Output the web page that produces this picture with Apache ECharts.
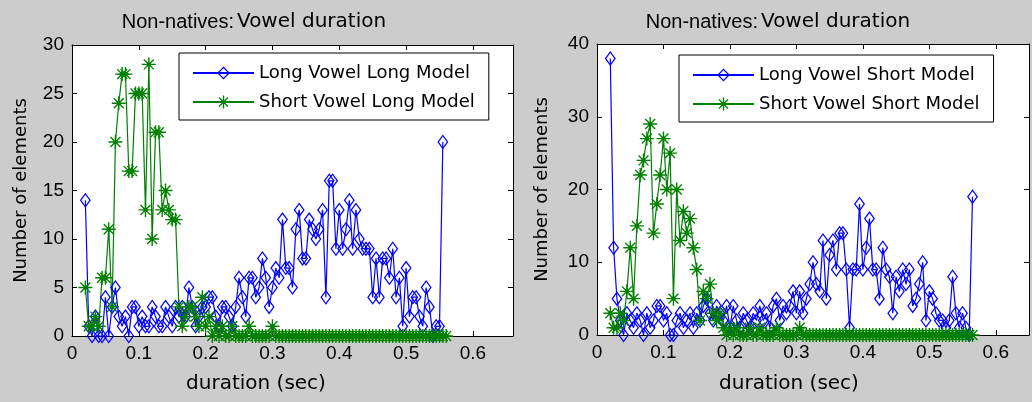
<!DOCTYPE html>
<html>
<head>
<meta charset="utf-8">
<title>Non-natives: Vowel duration</title>
<script src="https://cdn.jsdelivr.net/npm/echarts@6/dist/echarts.min.js"></script>
<style>
  html, body { margin: 0; padding: 0; background: #cccccc; }
  #chart { width: 1032px; height: 402px; }
</style>
</head>
<body>
<div id="chart"></div>
<script>
// histogram bins (sec), 5 ms wide
var durations = [
  0.020, 0.025, 0.030, 0.035, 0.040, 0.045, 0.050, 0.055, 0.060, 0.065,
  0.070, 0.075, 0.080, 0.085, 0.090, 0.095, 0.100, 0.105, 0.110, 0.115,
  0.120, 0.125, 0.130, 0.135, 0.140, 0.145, 0.150, 0.155, 0.160, 0.165,
  0.170, 0.175, 0.180, 0.185, 0.190, 0.195, 0.200, 0.205, 0.210, 0.215,
  0.220, 0.225, 0.230, 0.235, 0.240, 0.245, 0.250, 0.255, 0.260, 0.265,
  0.270, 0.275, 0.280, 0.285, 0.290, 0.295, 0.300, 0.305, 0.310, 0.315,
  0.320, 0.325, 0.330, 0.335, 0.340, 0.345, 0.350, 0.355, 0.360, 0.365,
  0.370, 0.375, 0.380, 0.385, 0.390, 0.395, 0.400, 0.405, 0.410, 0.415,
  0.420, 0.425, 0.430, 0.435, 0.440, 0.445, 0.450, 0.455, 0.460, 0.465,
  0.470, 0.475, 0.480, 0.485, 0.490, 0.495, 0.500, 0.505, 0.510, 0.515,
  0.520, 0.525, 0.530, 0.535, 0.540, 0.545, 0.550, 0.555, 0.560, 0.565
];

// left panel: long model
var longVowelLongModel = [
  14, 1, 0, 2, 0, 0, 4, 0, 3, 5,
  2, 1, 2, 0, 3, 3, 1, 2, 1, 1,
  3, 2, 1, 1, 3, 2, 1, 3, 2, 3,
  2, 5, 3, 1, 2, 3, 3, 4, 4, 2,
  1, 3, 3, 2, 1, 3, 6, 4, 2, 6,
  6, 4, 5, 8, 6, 3, 5, 7, 6, 12,
  7, 7, 5, 11, 13, 8, 8, 12, 11, 10,
  11, 13, 4, 16, 16, 9, 13, 9, 11, 14,
  9, 13, 10, 9, 9, 9, 4, 8, 4, 8,
  8, 6, 9, 4, 6, 1, 7, 2, 4, 4,
  2, 1, 5, 3, 0, 1, 1, 20, null, null
];
var shortVowelLongModel = [
  5, 1, 1, 2, 1, 6, 6, 11, 3, 20,
  24, 27, 27, 17, 17, 25, 25, 25, 13, 28,
  10, 21, 21, 13, 15, 13, 12, 12, 3, 1,
  2, 3, 3, 2, 1, 4, 1, 2, 0, 1,
  0, 1, 0, 0, 1, 0, 0, 0, 0, 1,
  0, 0, 0, 0, 0, 0, 1, 0, 0, 0,
  0, 0, 0, 0, 0, 0, 0, 0, 0, 0,
  0, 0, 0, 0, 0, 0, 0, 0, 0, 0,
  0, 0, 0, 0, 0, 0, 0, 0, 0, 0,
  0, 0, 0, 0, 0, 0, 0, 0, 0, 0,
  0, 0, 0, 0, 0, 0, 0, 0, 0, null
];

// right panel: short model
var longVowelShortModel = [
  38, 12, 5, 2, 0, 3, 2, 1, 3, 2,
  0, 3, 1, 2, 4, 4, 2, 3, 0, 0,
  2, 3, 1, 2, 3, 1, 3, 2, 4, 5,
  3, 2, 4, 3, 2, 4, 1, 4, 2, 1,
  3, 2, 1, 3, 2, 4, 2, 3, 1, 4,
  5, 2, 4, 3, 4, 6, 3, 6, 3, 5,
  7, 10, 7, 6, 13, 5, 11, 13, 9, 14,
  14, 9, 1, 9, 9, 18, 9, 12, 16, 9,
  9, 5, 12, 9, 8, 3, 8, 6, 9, 7,
  9, 4, 5, 7, 10, 2, 6, 5, 3, 2,
  2, 1, 2, 8, 3, 1, 3, 1, 0, 19
];
var shortVowelShortModel = [
  3, 1, 1, 3, 2, 6, 12, 5, 15, 22,
  24, 27, 29, 14, 18, 22, 27, 20, 25, 5,
  20, 13, 17, 14, 16, 12, 9, 2, 6, 5,
  7, 3, 2, 3, 1, 0, 1, 0, 1, 0,
  0, 0, 1, 0, 0, 1, 0, 0, 0, 0,
  1, 0, 0, 0, 0, 0, 0, 1, 0, 0,
  0, 0, 0, 0, 0, 0, 0, 0, 0, 0,
  0, 0, 0, 0, 0, 0, 0, 0, 0, 0,
  0, 0, 0, 0, 0, 0, 0, 0, 0, 0,
  0, 0, 0, 0, 0, 0, 0, 0, 0, 0,
  0, 0, 0, 0, 0, 0, 0, 0, 0, 0
];

var chart = echarts.init(document.getElementById('chart'));

function toPoints(counts) {
  return durations.map(function (d, i) {
    return [d, counts[i] == null ? '-' : counts[i]];
  });
}

// matlab style markers: hollow diamond and asterisk
var diamond = 'path://M5 0 L10 7 L5 14 L0 7 Z M5 1.9 L1.4 7 L5 12.1 L8.6 7 Z';
var asterisk = 'path://M9 0 L11 0 L11 20 L9 20 Z M0 9 L20 9 L20 11 L0 11 Z ' +
  'M3.6 2.2 L17.8 16.4 L16.4 17.8 L2.2 3.6 Z M16.4 2.2 L17.8 3.6 L3.6 17.8 L2.2 16.4 Z ' +
  'M7 7 L13 7 L13 13 L7 13 Z';

var arial = 'Liberation Sans';
var verdana = 'DejaVu Sans';

function xAx(grid, max, top) {
  return {
    type: 'value', gridIndex: grid, min: 0, max: max, interval: 0.1,
    position: top ? 'top' : 'bottom',
    axisLine: { show: true, onZero: false, lineStyle: { color: '#000', width: 1 } },
    axisTick: { show: true, inside: true, length: 5, lineStyle: { color: '#000' } },
    axisLabel: { show: !top, showMaxLabel: false, color: '#000', fontSize: 19, fontFamily: arial, margin: 8 },
    splitLine: { show: false }
  };
}
function yAx(grid, max, interval, right, name, gap) {
  return {
    type: 'value', gridIndex: grid, min: 0, max: max, interval: interval,
    position: right ? 'right' : 'left',
    name: right ? '' : name, nameLocation: 'middle', nameGap: gap,
    nameTextStyle: { color: '#000', fontSize: 18, fontFamily: verdana },
    axisLine: { show: true, onZero: false, lineStyle: { color: '#000', width: 1 } },
    axisTick: { show: true, inside: true, length: 5, lineStyle: { color: '#000' } },
    axisLabel: { show: !right, color: '#000', fontSize: 19, fontFamily: arial, margin: 8 },
    splitLine: { show: false }
  };
}

function series(name, counts, grid, blue) {
  return {
    name: name, type: 'line', xAxisIndex: grid, yAxisIndex: grid,
    data: toPoints(counts),
    symbol: blue ? diamond : asterisk,
    symbolSize: blue ? [11, 15] : 14,
    showAllSymbol: true,
    clip: false,
    color: blue ? '#0000ff' : '#008000',
    lineStyle: { width: 1.2 },
    itemStyle: { borderWidth: 0 },
    emphasis: { disabled: true }
  };
}

function legend(left, top, names) {
  return {
    left: left, top: top, orient: 'vertical',
    data: names,
    backgroundColor: '#fff', borderColor: '#000', borderWidth: 1, borderRadius: 0,
    padding: [9, 14, 7, 13], itemGap: 7, itemWidth: 61, itemHeight: 16,
    textStyle: { color: '#000', fontSize: 18, fontFamily: verdana, lineHeight: 22 },
    selectedMode: false
  };
}

function txt(x, y, s, size, family, align) {
  return {
    type: 'text', x: x, y: y, silent: true,
    style: { text: s, fontSize: size, fontFamily: family, fill: '#000',
      align: align, verticalAlign: 'middle' }
  };
}

var option = {
  backgroundColor: '#cccccc',
  animation: false,
  grid: [
    { left: 72, top: 45, width: 441, height: 291, show: true, backgroundColor: '#fff', borderWidth: 0 },
    { left: 597, top: 44, width: 432, height: 291, show: true, backgroundColor: '#fff', borderWidth: 0 }
  ],
  xAxis: [xAx(0, 0.66, false), xAx(1, 0.65, false), xAx(0, 0.66, true), xAx(1, 0.65, true)],
  yAxis: [
    yAx(0, 30, 5, false, 'Number of elements', 42),
    yAx(1, 40, 10, false, 'Number of elements', 46),
    yAx(0, 30, 5, true),
    yAx(1, 40, 10, true)
  ],
  legend: [
    legend(179, 53, ['Long Vowel Long Model', 'Short Vowel Long Model']),
    legend(679, 55, ['Long Vowel Short Model', 'Short Vowel Short Model'])
  ],
  graphic: [
    txt(234, 22, 'Non-natives:', 20, arial, 'right'),
    txt(237, 22, 'Vowel duration', 20, verdana, 'left'),
    txt(758, 22, 'Non-natives:', 20, arial, 'right'),
    txt(761, 22, 'Vowel duration', 20, verdana, 'left'),
    txt(256, 384, 'duration (sec)', 20, verdana, 'center'),
    txt(789, 384, 'duration (sec)', 20, verdana, 'center')
  ],
  series: [
    series('Long Vowel Long Model', longVowelLongModel, 0, true),
    series('Short Vowel Long Model', shortVowelLongModel, 0, false),
    series('Long Vowel Short Model', longVowelShortModel, 1, true),
    series('Short Vowel Short Model', shortVowelShortModel, 1, false)
  ]
};
chart.setOption(option);
</script>
</body>
</html>
